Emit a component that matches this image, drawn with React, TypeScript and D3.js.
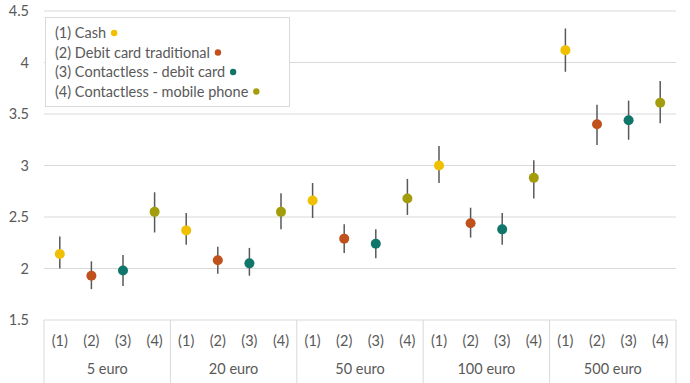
import React, { useEffect, useRef } from "react";
import * as d3 from "d3";

const groups = ["5 euro", "20 euro", "50 euro", "100 euro", "500 euro"];
const subLabels = ["(1)", "(2)", "(3)", "(4)"];
const seriesNames = [
  "(1) Cash",
  "(2) Debit card traditional",
  "(3) Contactless - debit card",
  "(4) Contactless - mobile phone",
];
const seriesColors = ["#F0C000", "#C0501C", "#11766A", "#A39D0C"];
const yTicks = [1.5, 2, 2.5, 3, 3.5, 4, 4.5];

// values per group: [series1..series4]
const means = [
  [2.14, 1.93, 1.98, 2.55],
  [2.37, 2.08, 2.05, 2.55],
  [2.66, 2.29, 2.24, 2.68],
  [3.0, 2.44, 2.38, 2.88],
  [4.12, 3.4, 3.44, 3.61],
];
const lows = [
  [2.0, 1.8, 1.83, 2.35],
  [2.23, 1.95, 1.93, 2.38],
  [2.49, 2.15, 2.1, 2.52],
  [2.83, 2.3, 2.23, 2.68],
  [3.91, 3.2, 3.25, 3.41],
];
const highs = [
  [2.31, 2.07, 2.13, 2.74],
  [2.54, 2.21, 2.2, 2.73],
  [2.83, 2.43, 2.38, 2.87],
  [3.19, 2.59, 2.54, 3.05],
  [4.33, 3.59, 3.63, 3.82],
];

const W = 690;
const H = 383;
const FONT = "Lato, 'Liberation Sans', sans-serif";
const FS = 14.5;
const TXT = "#595959";

export default function App() {
  const ref = useRef<SVGSVGElement>(null);
  useEffect(() => {
    document.body.style.margin = "0";
    const svg = d3.select(ref.current);
    svg.selectAll("*").remove();
    const left = 44, right = 676, top = 11, bottom = 320;
    const y = d3.scaleLinear().domain([1.5, 4.5]).range([bottom, top]);
    const xg = d3.scaleBand<string>().domain(groups).range([left, right]).padding(0);
    const xs = d3.scaleBand<string>().domain(subLabels).range([0, xg.bandwidth()]).padding(0);

    // gridlines
    svg.append("g").selectAll("line").data(yTicks.slice(1)).join("line")
      .attr("x1", left).attr("x2", right)
      .attr("y1", d => y(d)).attr("y2", d => y(d))
      .attr("stroke", "#D9D9D9").attr("stroke-width", 1);
    // y labels
    svg.append("g").selectAll("text").data(yTicks).join("text")
      .attr("x", 29).attr("y", d => y(d)).attr("dy", "0.35em")
      .attr("text-anchor", "end").attr("font-family", FONT).attr("font-size", FS)
      .attr("fill", TXT).text(d => String(d));
    // x axis line
    svg.append("line").attr("x1", left).attr("x2", right).attr("y1", bottom).attr("y2", bottom)
      .attr("stroke", "#D9D9D9");
    // group dividers
    const bounds = [...groups.map(g => xg(g)!), right];
    svg.append("g").selectAll("line").data(bounds).join("line")
      .attr("x1", d => d).attr("x2", d => d).attr("y1", bottom).attr("y2", H)
      .attr("stroke", "#D9D9D9");
    // sublabels and group labels
    groups.forEach((g, gi) => {
      subLabels.forEach(s => {
        svg.append("text").attr("x", xg(g)! + xs(s)! + xs.bandwidth() / 2).attr("y", 341)
          .attr("dy", "0.35em").attr("text-anchor", "middle").attr("font-family", FONT)
          .attr("font-size", FS).attr("fill", TXT).text(s);
      });
      svg.append("text").attr("x", xg(g)! + xg.bandwidth() / 2).attr("y", 369)
        .attr("dy", "0.35em").attr("text-anchor", "middle").attr("font-family", FONT)
        .attr("font-size", FS).attr("fill", TXT).text(g);
      // points
      subLabels.forEach((s, si) => {
        const cx = xg(g)! + xs(s)! + xs.bandwidth() / 2;
        svg.append("line").attr("x1", cx).attr("x2", cx)
          .attr("y1", y(highs[gi][si])).attr("y2", y(lows[gi][si]))
          .attr("stroke", "#595959").attr("stroke-width", 1.5);
        svg.append("circle").attr("cx", cx).attr("cy", y(means[gi][si])).attr("r", 5)
          .attr("fill", seriesColors[si]);
      });
    });

    // legend
    const lg = svg.append("g");
    lg.append("rect").attr("x", 45.5).attr("y", 17.5).attr("width", 244).attr("height", 89)
      .attr("fill", "#fff").attr("stroke", "#D9D9D9");
    seriesNames.forEach((n, i) => {
      const ty = 33 + i * 19.5;
      const t = lg.append("text").attr("x", 55).attr("y", ty).attr("dy", "0.35em")
        .attr("font-family", FONT).attr("font-size", FS).attr("fill", TXT).text(n);
      const len = (t.node() as SVGTextElement).getComputedTextLength();
      lg.append("circle").attr("cx", 55 + len + 8).attr("cy", ty).attr("r", 3.2)
        .attr("fill", seriesColors[i]);
    });
  }, []);
  return <svg ref={ref} width={W} height={H} style={{ display: "block", background: "#fff" }} />;
}
